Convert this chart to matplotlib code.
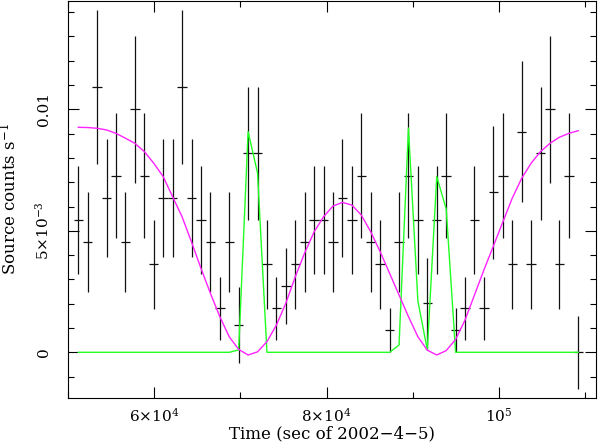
import numpy as np
import matplotlib
matplotlib.use("Agg")
import matplotlib.pyplot as plt
from matplotlib.ticker import FixedLocator, MultipleLocator

# bin centres (sec of 2002-4-5), ~1096 s bins
t = [51160, 52256, 53352, 54448, 55544, 56640, 57736, 58832, 59928, 61024,
     62120, 63216, 64312, 65408, 66504, 67600, 68696, 69792, 70888, 71984,
     73080, 74176, 75272, 76368, 77464, 78560, 79656, 80752, 81848, 82944,
     84040, 85136, 86232, 87328, 88424, 89520, 90616, 91712, 92808, 93904,
     95000, 96096, 97192, 98288, 99384, 100480, 101576, 102672, 103768, 104864,
     105960, 107056, 108152, 109248]
half_bin = 548

# source rate and errors
rate = [0.00544, 0.00454, 0.01091, 0.00636, 0.00727, 0.00454, 0.01000, 0.00727, 0.00362, 0.00636,
        0.00636, 0.01091, 0.00636, 0.00544, 0.00454, 0.00181, 0.00454, 0.00112, 0.00819, 0.00819,
        0.00362, 0.00181, 0.00273, 0.00362, 0.00454, 0.00544, 0.00544, 0.00454, 0.00636, 0.00544,
        0.00727, 0.00454, 0.00362, 0.00092, 0.00454, 0.00727, 0.00544, 0.00202, 0.00544, 0.00727,
        0.00092, 0.00181, 0.00544, 0.00181, 0.00658, 0.00727, 0.00362, 0.00908, 0.00362, 0.00819,
        0.01000, 0.00362, 0.00727, 0.0]
rate_err = [0.00223, 0.00204, 0.00317, 0.00243, 0.00258, 0.00204, 0.00302, 0.00258, 0.00182, 0.00243,
            0.00243, 0.00317, 0.00243, 0.00223, 0.00204, 0.00130, 0.00204, 0.00158, 0.00273, 0.00273,
            0.00182, 0.00130, 0.00156, 0.00182, 0.00204, 0.00223, 0.00223, 0.00204, 0.00243, 0.00223,
            0.00258, 0.00204, 0.00182, 0.00091, 0.00204, 0.00258, 0.00223, 0.00187, 0.00223, 0.00258,
            0.00091, 0.00130, 0.00223, 0.00130, 0.00274, 0.00258, 0.00182, 0.00289, 0.00182, 0.00273,
            0.00302, 0.00182, 0.00258, 0.00151]

# smooth model (magenta)
model_smooth = [0.00926, 0.00925, 0.00922, 0.00915, 0.00901, 0.00881, 0.00860, 0.00826, 0.00778, 0.00723,
                0.00640, 0.00558, 0.00454, 0.00346, 0.00243, 0.00147, 0.00064, 0.00012, -0.00011, 0.00002,
                0.00044, 0.00112, 0.00202, 0.00311, 0.00409, 0.00496, 0.00558, 0.00602, 0.00617, 0.00606,
                0.00565, 0.00496, 0.00414, 0.00325, 0.00236, 0.00147, 0.00064, 0.00009, -0.00011, 0.00007,
                0.00053, 0.00133, 0.00236, 0.00339, 0.00437, 0.00536, 0.00634, 0.00716, 0.00778, 0.00826,
                0.00860, 0.00885, 0.00901, 0.00912]

# flare model (green)
model_flare = [0, 0, 0, 0, 0, 0, 0, 0, 0, 0,
               0, 0, 0, 0, 0, 0, 0, 0.0001, 0.00908, 0.00738,
               0, 0, 0, 0, 0, 0, 0, 0, 0, 0,
               0, 0, 0, 0, 0.0003, 0.00923, 0.00211, 0.0001, 0.00723, 0.0059,
               0, 0, 0, 0, 0, 0, 0, 0, 0, 0,
               0, 0, 0, 0]

xticks = [6e4, 8e4, 1e5]
xticklabels = [r'$6{\times}10^{4}$', r'$8{\times}10^{4}$', r'$10^{5}$']
yticks = [0, 0.005, 0.01]
yticklabels = ['0', r'$5{\times}10^{-3}$', '0.01']

plt.rcParams['font.family'] = 'DejaVu Serif'
plt.rcParams['mathtext.fontset'] = 'dejavuserif'

fig = plt.figure(figsize=(5.98, 4.44), dpi=100)
ax = fig.add_axes([0.1137, 0.1036, 0.8830, 0.8941])

ax.errorbar(t, rate, xerr=half_bin, yerr=rate_err, fmt='none',
            ecolor='#111111', elinewidth=0.9, capsize=0)
ax.plot(t, model_flare, color='#22ff22', lw=1.0)
ax.plot(t, model_smooth, color='#ff22ff', lw=1.0)

ax.set_xlim(49960, 111314)
ax.set_ylim(-0.00188, 0.014457)

ax.xaxis.set_major_locator(FixedLocator(xticks))
ax.set_xticklabels(xticklabels, fontsize=11)
ax.xaxis.set_minor_locator(MultipleLocator(1e4))
ax.yaxis.set_major_locator(FixedLocator(yticks))
ax.set_yticklabels(yticklabels, fontsize=11, rotation=90, va='center')
ax.yaxis.set_minor_locator(MultipleLocator(0.001))

ax.tick_params(which='both', direction='in', top=True, right=True, width=0.8)
ax.tick_params(which='major', length=8)
ax.tick_params(axis='x', which='major', pad=6)
ax.tick_params(axis='y', which='major', pad=12)
ax.tick_params(which='minor', length=4)
for s in ax.spines.values():
    s.set_linewidth(0.8)

ax.set_xlabel('Time (sec of 2002\u22124\u22125)', fontsize=12, labelpad=1)
ax.set_ylabel(r'Source counts s$^{-1}$', fontsize=12)
ax.yaxis.set_label_coords(-0.09, 0.5)

fig.savefig('out.png', dpi=100)
